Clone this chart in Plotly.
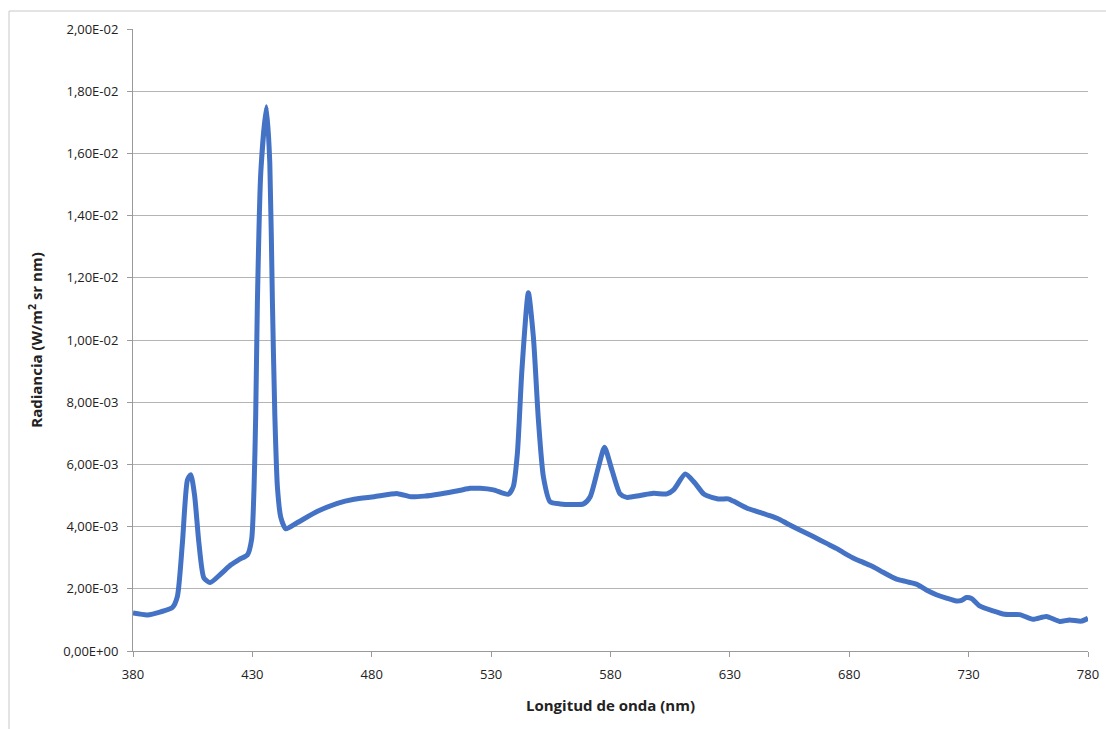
import plotly.graph_objects as go

wavelength = [380, 386, 391.6, 396.5, 398.6, 400.7, 402.8, 404.2, 405.8, 407.6, 409.7, 412.3,
              416.7, 421, 424.4, 427.9, 429.7, 430.7, 431.4, 432.1, 433.5, 435.9, 437.3, 438.4,
              439.4, 440.5, 441.9, 444, 448.9, 457.3, 465.6, 472.6, 481, 490.8, 496.4, 502,
              508.6, 516.7, 521.2, 525.4, 531, 537.2, 539.3, 541, 542.9, 545.6, 547.7, 549.8,
              551.9, 554.7, 558.9, 568.7, 571.5, 575, 577.5, 580.6, 584, 586.8, 592.4, 598,
              603.6, 606.4, 611.3, 614.8, 619, 620.2, 625.1, 629.3, 631.4, 637, 641.2,
              646.7, 650.2, 653.7, 659.3, 664.9, 670.5, 674.6, 677.4, 681.6, 685.8, 690, 694.2,
              699.8, 704, 708.1, 712.3, 716.5, 720.7, 724.9, 727, 729.1, 731.2, 734.6, 740.2,
              745.1, 751.4, 757, 762.6, 768.1, 772.3, 777.2, 780]
radiance_e3 = [1.22, 1.16, 1.26, 1.40, 1.76, 3.48, 5.5, 5.67, 5.0, 3.48, 2.35, 2.2,
               2.47, 2.77, 2.94, 3.09, 3.6, 5.26, 7.6, 11.2, 15.35, 17.5, 15.7, 11.2,
               7.6, 5.26, 4.3, 3.93, 4.13, 4.49, 4.75, 4.88, 4.96, 5.06, 4.96, 4.98,
               5.05, 5.16, 5.23, 5.23, 5.18, 5.04, 5.29, 6.36, 9.04, 11.52, 10.1, 7.43,
               5.6, 4.8, 4.73, 4.73, 4.96, 5.93, 6.55, 5.82, 5.05, 4.94, 5.0, 5.07,
               5.05, 5.18, 5.69, 5.45, 5.05, 5.0, 4.89, 4.89, 4.82, 4.6, 4.49,
               4.35, 4.25, 4.11, 3.89, 3.68, 3.46, 3.30, 3.17, 2.99, 2.85, 2.71, 2.53,
               2.31, 2.23, 2.15, 1.96, 1.81, 1.70, 1.61, 1.63, 1.72, 1.69, 1.45, 1.29,
               1.18, 1.17, 1.02, 1.11, 0.95, 1.0, 0.96, 1.05]
radiance = [v * 1e-3 for v in radiance_e3]

x_ticks = [380, 430, 480, 530, 580, 630, 680, 730, 780]
y_ticks = [0, 0.002, 0.004, 0.006, 0.008, 0.010, 0.012, 0.014, 0.016, 0.018, 0.020]
y_ticktext = ["0,00E+00", "2,00E-03", "4,00E-03", "6,00E-03", "8,00E-03", "1,00E-02",
              "1,20E-02", "1,40E-02", "1,60E-02", "1,80E-02", "2,00E-02"]

fig = go.Figure()
fig.add_trace(go.Scatter(x=wavelength, y=radiance, mode="lines",
                         line=dict(color="#4472C4", width=5, shape="spline", smoothing=0.6),
                         showlegend=False, hoverinfo="x+y", cliponaxis=False))

font_family = "Open Sans, Liberation Sans, sans-serif"
W, H = 1106, 729
L, R, T, B = 133, 1088, 29, 651
fig.update_layout(
    width=W, height=H,
    paper_bgcolor="white", plot_bgcolor="white",
    margin=dict(l=L, r=W - R, t=T, b=H - B, pad=0),
    font=dict(family=font_family, size=13, color="#222222"),
    xaxis=dict(range=[380, 780], tickvals=x_ticks, ticktext=[str(t) for t in x_ticks],
               automargin=False,
               showgrid=False, zeroline=False, showline=True, linecolor="#9a9a9a", linewidth=1,
               ticks="outside", ticklen=5, tickcolor="#9a9a9a", ticklabelstandoff=6,
               tickfont=dict(size=13, family=font_family, color="#222222"),
               title=dict(text="<b>Longitud de onda (nm)</b>", standoff=18,
                          font=dict(size=15, family=font_family, color="#222222"))),
    yaxis=dict(range=[0, 0.020], tickvals=y_ticks, ticktext=y_ticktext,
               automargin=False,
               showgrid=True, gridcolor="#b4b4b4", gridwidth=1, zeroline=False,
               showline=True, linecolor="#9a9a9a", linewidth=1,
               ticks="outside", ticklen=5, tickcolor="#9a9a9a", ticklabelstandoff=6,
               tickfont=dict(size=13, family=font_family, color="#222222"),
               title=dict(text="<b>Radiancia (W/m<sup>2</sup> sr nm)</b>", standoff=16,
                          font=dict(size=15, family=font_family, color="#222222"))),
    shapes=[dict(type="rect", xref="paper", yref="paper",
                 x0=(9 - L) / (R - L), x1=(W + 10 - L) / (R - L),
                 y0=(B - (H + 10)) / (B - T), y1=(B - 11) / (B - T),
                 line=dict(color="#c8c8c8", width=1), fillcolor="rgba(0,0,0,0)", layer="below")],
)

fig.write_html("out.html", config={"displayModeBar": False},
               post_script="document.body.style.margin='0px';document.body.style.overflow='hidden';")
